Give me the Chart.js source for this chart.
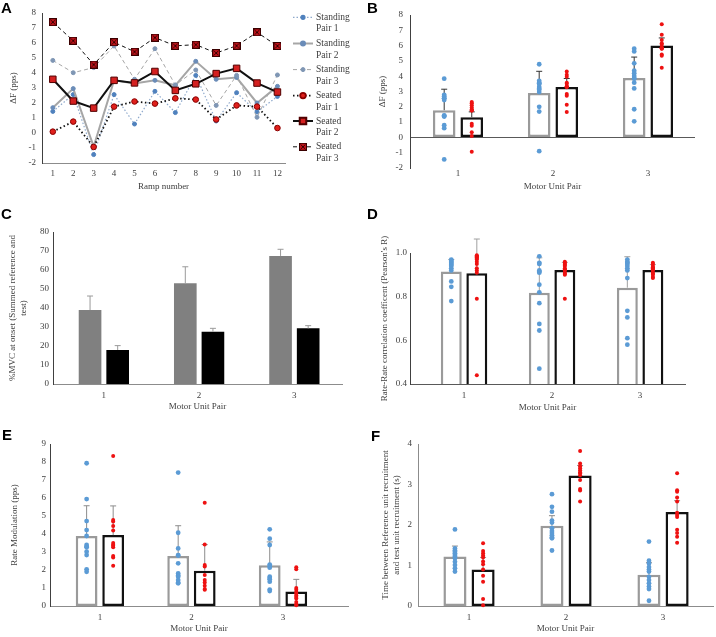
<!DOCTYPE html>
<html>
<head>
<meta charset="utf-8">
<script src="https://cdn.jsdelivr.net/npm/chart.js@4.4.1/dist/chart.umd.min.js"></script>
<style>
body{margin:0;background:#fff}
#fig{position:relative;width:716px;height:637px;overflow:hidden;background:#fff}
#fig canvas{position:absolute}
.letter{position:absolute;font:bold 15px 'Liberation Sans',Arial,sans-serif;line-height:15px;color:#000}
</style>
</head>
<body>
<div id="fig">
  <canvas id="chart-a" width="360" height="200" style="left:0;top:0"></canvas>
  <canvas id="chart-b" width="356" height="200" style="left:360px;top:0"></canvas>
  <canvas id="chart-c" width="360" height="210" style="left:0;top:210px"></canvas>
  <canvas id="chart-d" width="356" height="210" style="left:360px;top:210px"></canvas>
  <canvas id="chart-e" width="360" height="217" style="left:0;top:420px"></canvas>
  <canvas id="chart-f" width="356" height="217" style="left:360px;top:420px"></canvas>
  <div class="letter" style="left:1px;top:0">A</div>
  <div class="letter" style="left:367px;top:0">B</div>
  <div class="letter" style="left:1px;top:206px">C</div>
  <div class="letter" style="left:367px;top:206px">D</div>
  <div class="letter" style="left:2px;top:427px">E</div>
  <div class="letter" style="left:371px;top:428px">F</div>
</div>
<script>
// ---- data ----
const ramps = ['1','2','3','4','5','6','7','8','9','10','11','12']
const pairs = ['1','2','3']

// A: delta F per ramp (pps)
const standingPair1 = [1.44, 2.56, -1.44, 2.56, 0.6, 2.78, 1.36, 3.84, 0.8, 2.69, 1.4, 2.44]
const standingPair2 = [1.69, 2.96, -0.9, 3.51, 3.3, 3.51, 3.18, 4.78, 3.58, 3.7, 2.0, 3.11]
const standingPair3 = [4.84, 4.02, 4.36, 5.8, 3.58, 5.62, 3.2, 4.2, 1.84, 3.84, 1.05, 3.87]
const seatedPair1 = [0.09, 0.76, -0.93, 1.76, 2.1, 1.96, 2.31, 2.23, 0.9, 1.84, 1.76, 0.33]
const seatedPair2 = [3.58, 2.13, 1.66, 3.51, 3.34, 4.1, 2.84, 3.28, 3.96, 4.31, 3.33, 2.73]
const seatedPair3 = [7.39, 6.15, 4.56, 6.05, 5.42, 6.36, 5.81, 5.89, 5.33, 5.82, 6.71, 5.8]

// B: mean delta F and SD
const standingDeltaF = [1.78, 2.9, 3.88]
const standingDeltaFSd = [1.37, 1.42, 1.37]
const seatedDeltaF = [1.32, 3.3, 6.0]
const seatedDeltaFSd = [0.35, 0.55, 0.5]

// C: %MVC at onset
const standingOnset = [38.9, 53, 67.4]
const standingOnsetSd = [7.4, 8.7, 3.5]
const seatedOnset = [17.9, 27.5, 29.3]
const seatedOnsetSd = [2.3, 1.8, 1.4]

// D: rate-rate correlation
const standingCorr = [0.915, 0.818, 0.841]
const standingCorrSd = [0.055, 0.16, 0.142]
const seatedCorr = [0.907, 0.922, 0.922]
const seatedCorrSd = [0.157, 0.035, 0.025]
const standingCorrPoints = [
  [0.97, 0.965, 0.96, 0.955, 0.95, 0.945, 0.94, 0.93, 0.92, 0.87, 0.845, 0.78],
  [0.985, 0.955, 0.95, 0.92, 0.915, 0.91, 0.855, 0.82, 0.77, 0.675, 0.645, 0.47],
  [0.97, 0.96, 0.955, 0.95, 0.94, 0.93, 0.92, 0.885, 0.735, 0.705, 0.61, 0.58]
]
const seatedCorrPoints = [
  [0.99, 0.985, 0.98, 0.975, 0.97, 0.96, 0.95, 0.93, 0.92, 0.91, 0.79, 0.44],
  [0.96, 0.955, 0.95, 0.945, 0.94, 0.93, 0.925, 0.92, 0.91, 0.905, 0.9, 0.79],
  [0.955, 0.95, 0.94, 0.935, 0.93, 0.925, 0.92, 0.91, 0.905, 0.9, 0.89, 0.885]
]

// E: rate modulation (pps)
const standingRateMod = [3.89, 2.78, 2.26]
const standingRateModSd = [1.68, 1.68, 1.3]
const seatedRateMod = [3.94, 1.96, 0.81]
const seatedRateModSd = [1.62, 1.45, 0.67]
const standingRateModPoints = [
  [7.93, 5.94, 4.72, 4.22, 3.89, 3.39, 3.3, 3.26, 3.02, 2.83, 2.04, 1.9],
  [7.41, 4.07, 3.2, 2.83, 2.8, 2.37, 1.81, 1.7, 1.63, 1.44, 1.3, 1.26],
  [4.26, 3.74, 3.39, 2.3, 2.22, 2.13, 1.63, 1.55, 1.48, 1.35, 0.91, 0.83]
]
const seatedRateModPoints = [
  [8.33, 4.78, 4.7, 4.44, 4.19, 3.5, 3.4, 3.35, 3.26, 2.78, 2.7, 2.24],
  [5.74, 3.41, 2.28, 2.2, 1.72, 1.44, 1.3, 1.13, 0.95, 0.9],
  [2.15, 2.04, 1.0, 0.9, 0.78, 0.7, 0.59, 0.5, 0.41, 0.22, 0.1, 0.04]
]

// F: time between reference and test unit recruitment (s)
const standingDelay = [1.22, 1.98, 0.77]
const standingDelaySd = [0.26, 0.25, 0.3]
const seatedDelay = [0.9, 3.22, 2.32]
const seatedDelaySd = [0.3, 0.25, 0.28]
const standingDelayPoints = [
  [1.89, 1.42, 1.37, 1.34, 1.3, 1.26, 1.22, 1.18, 1.09, 1.01, 0.93, 0.85],
  [2.76, 2.45, 2.33, 2.11, 2.06, 1.92, 1.85, 1.8, 1.75, 1.7, 1.67, 1.37],
  [1.59, 1.12, 1.05, 0.96, 0.9, 0.85, 0.72, 0.64, 0.56, 0.48, 0.42, 0.13]
]
const seatedDelayPoints = [
  [1.55, 1.36, 1.3, 1.25, 1.2, 1.1, 1.03, 0.9, 0.75, 0.6, 0.17, 0.02],
  [3.83, 3.52, 3.45, 3.4, 3.35, 3.3, 3.28, 3.23, 3.11, 2.89, 2.85, 2.58],
  [3.28, 2.86, 2.82, 2.68, 2.58, 2.3, 2.25, 2.2, 1.88, 1.8, 1.71, 1.56]
]

// ---- common look ----
Chart.defaults.font.family = "'Liberation Serif', 'Times New Roman', serif"
Chart.defaults.font.size = 9
Chart.defaults.color = '#404040'
Chart.defaults.animation = false
Chart.defaults.plugins.legend.display = false
Chart.defaults.plugins.tooltip.enabled = false

const CAT_PCT = 0.58
const BAR_PCT = 0.82
const BLUE = '#5b9bd5'
const RED = '#ee1111'

const errorBars = {
  id: 'errorBars',
  afterDatasetDraw(chart, args) {
    const ds = chart.data.datasets[args.index]
    if(!ds.errors) return
    const ctx = chart.ctx
    const y = chart.scales.y
    ctx.save()
    ctx.strokeStyle = ds.errorColor
    ctx.lineWidth = 1
    args.meta.data.forEach((bar, i) => {
      const top = y.getPixelForValue(ds.data[i].y + ds.errors[i])
      ctx.beginPath()
      ctx.moveTo(bar.x, bar.y)
      ctx.lineTo(bar.x, top)
      ctx.moveTo(bar.x - 3, top)
      ctx.lineTo(bar.x + 3, top)
      ctx.stroke()
    })
    ctx.restore()
  }
}

function barsFrom(values) {
  return values.map((v, i) => ({x: i + 1, y: v}))
}

function pointsFrom(groups, shift) {
  const out = []
  groups.forEach((vals, i) => vals.forEach(v => out.push({x: i + 1 + shift, y: v})))
  return out
}

function xAxis(cfg) {
  return {
    type: 'linear', min: cfg.min, max: cfg.max, offset: false,
    afterBuildTicks: s => { s.ticks = cfg.labels.map((l, i) => ({value: i + 1})) },
    ticks: {padding: cfg.tickPad, autoSkip: false, maxRotation: 0, callback: v => cfg.labels[Math.round(v) - 1]},
    grid: {display: false, drawTicks: false, offset: false},
    border: {display: cfg.line !== false, color: cfg.lineColor || '#8c8c8c', width: 1},
    title: {display: true, text: cfg.title, padding: {top: 0, bottom: cfg.titlePad}},
    afterFit: s => { s.height = cfg.height }
  }
}

function yAxis(cfg) {
  return {
    type: 'linear', min: cfg.min, max: cfg.max,
    ticks: {stepSize: cfg.step, padding: cfg.tickPad, callback: cfg.format || (v => v)},
    grid: {
      display: !!cfg.zeroLine, drawTicks: false,
      color: c => (c.tick && Math.abs(c.tick.value) < 1e-9) ? '#595959' : 'rgba(0,0,0,0)'
    },
    border: {display: true, color: cfg.lineColor || '#595959', width: 1},
    title: {display: true, text: cfg.title, padding: {top: cfg.titlePad, bottom: 0}},
    afterFit: s => { s.width = cfg.width }
  }
}

function groupedChart(id, cfg) {
  const datasets = [
    {type: 'bar', data: barsFrom(cfg.standing), errors: cfg.standingSd, errorColor: cfg.errorColor,
     backgroundColor: cfg.filled ? '#808080' : '#ffffff', borderColor: cfg.filled ? '#808080' : '#9a9a9a',
     borderWidth: cfg.filled ? 0 : 2.5, borderSkipped: false, order: 2},
    {type: 'bar', data: barsFrom(cfg.seated), errors: cfg.seatedSd, errorColor: cfg.errorColor,
     backgroundColor: cfg.filled ? '#000000' : '#ffffff', borderColor: '#111111',
     borderWidth: cfg.filled ? 0 : 2.5, borderSkipped: false, order: 2}
  ]
  if(cfg.standingPoints) {
    datasets.push({type: 'scatter', data: pointsFrom(cfg.standingPoints, -CAT_PCT / 4),
      pointRadius: 2.4, pointBackgroundColor: BLUE, pointBorderWidth: 0, clip: false, order: 1})
    datasets.push({type: 'scatter', data: pointsFrom(cfg.seatedPoints, CAT_PCT / 4),
      pointRadius: 2, pointBackgroundColor: RED, pointBorderWidth: 0, clip: false, order: 1})
  }
  return new Chart(document.getElementById(id), {
    type: 'bar',
    data: {datasets: datasets},
    options: {
      responsive: false,
      categoryPercentage: CAT_PCT,
      barPercentage: BAR_PCT,
      layout: {autoPadding: false, padding: {top: cfg.padTop, right: cfg.padRight, left: 0, bottom: 0}},
      scales: {x: xAxis(cfg.x), y: yAxis(cfg.y)}
    },
    plugins: [errorBars]
  })
}

// ---- A: line chart with custom legend ----
function crossSquare() {
  const c = document.createElement('canvas')
  c.width = 8
  c.height = 8
  const g = c.getContext('2d')
  g.fillStyle = '#c0141c'
  g.fillRect(0, 0, 8, 8)
  g.strokeStyle = '#3a0000'
  g.lineWidth = 1
  g.strokeRect(0.5, 0.5, 7, 7)
  g.beginPath()
  g.moveTo(1.5, 1.5); g.lineTo(6.5, 6.5)
  g.moveTo(6.5, 1.5); g.lineTo(1.5, 6.5)
  g.stroke()
  return c
}

const seriesA = [
  {name: ['Standing', 'Pair 1'], values: standingPair1, color: '#8ea9cc', width: 1.2, dash: [1.5, 2],
   style: 'circle', radius: 2, fill: '#4f81bd', edge: '#4f81bd'},
  {name: ['Standing', 'Pair 2'], values: standingPair2, color: '#a6a6a6', width: 2, dash: [],
   style: 'circle', radius: 2, fill: '#6a8cb8', edge: '#6a8cb8'},
  {name: ['Standing', 'Pair 3'], values: standingPair3, color: '#a6a6a6', width: 1, dash: [4, 3],
   style: 'circle', radius: 2, fill: '#7f96b4', edge: '#7f96b4'},
  {name: ['Seated', 'Pair 1'], values: seatedPair1, color: '#111111', width: 1.8, dash: [1.5, 2.5],
   style: 'circle', radius: 2.8, fill: '#e0201c', edge: '#8a0000'},
  {name: ['Seated', 'Pair 2'], values: seatedPair2, color: '#111111', width: 2, dash: [],
   style: 'rect', radius: 4.6, fill: '#d42020', edge: '#500000'},
  {name: ['Seated', 'Pair 3'], values: seatedPair3, color: '#111111', width: 1, dash: [4, 3],
   style: crossSquare(), radius: 4, fill: '#c0141c', edge: '#3a0000'}
]

const legendA = {
  id: 'legendA',
  afterDraw(chart) {
    const ctx = chart.ctx
    const rows = [17.3, 43.5, 69.6, 95.6, 121, 146.8]
    chart.data.datasets.forEach((ds, i) => {
      const y = rows[i]
      ctx.save()
      ctx.strokeStyle = ds.borderColor
      ctx.lineWidth = ds.borderWidth
      ctx.setLineDash(ds.borderDash)
      ctx.beginPath()
      ctx.moveTo(293, y)
      ctx.lineTo(313, y)
      ctx.stroke()
      ctx.setLineDash([])
      ctx.fillStyle = ds.pointBackgroundColor
      ctx.strokeStyle = ds.pointBorderColor
      Chart.helpers.drawPoint(ctx, {pointStyle: ds.pointStyle, radius: ds.pointRadius, borderWidth: 1, rotation: 0}, 303, y)
      ctx.fillStyle = '#404040'
      ctx.font = "9.5px 'Liberation Serif', 'Times New Roman', serif"
      ctx.textBaseline = 'middle'
      ctx.textAlign = 'left'
      ctx.fillText(ds.label[0], 316, y)
      ctx.fillText(ds.label[1], 316, y + 11.5)
      ctx.restore()
    })
  }
}

new Chart(document.getElementById('chart-a'), {
  type: 'line',
  data: {
    datasets: seriesA.map((s, i) => ({
      label: s.name,
      data: s.values.map((v, j) => ({x: j + 1, y: v})),
      borderColor: s.color, borderWidth: s.width, borderDash: s.dash,
      pointStyle: s.style, pointRadius: s.radius,
      pointBackgroundColor: s.fill, pointBorderColor: s.edge, pointBorderWidth: 1,
      tension: 0, fill: false, clip: false, order: 6 - i
    }))
  },
  options: {
    responsive: false,
    layout: {autoPadding: false, padding: {top: 13, right: 75, left: 0, bottom: 0}},
    scales: {
      x: xAxis({min: 0.47, max: 12.37, labels: ramps, tickPad: 5, title: 'Ramp number', titlePad: 7.6, height: 37, lineColor: '#8c8c8c'}),
      y: yAxis({min: -2, max: 8, step: 1, tickPad: 6, title: 'ΔF (pps)', titlePad: 8.6, width: 42, lineColor: '#404040'})
    }
  },
  plugins: [legendA]
})

// ---- B ----
groupedChart('chart-b', {
  standing: standingDeltaF, standingSd: standingDeltaFSd,
  seated: seatedDeltaF, seatedSd: seatedDeltaFSd,
  standingPoints: [standingPair1, standingPair2, standingPair3],
  seatedPoints: [seatedPair1, seatedPair2, seatedPair3],
  errorColor: '#333333', padTop: 15, padRight: 21,
  x: {min: 0.495, max: 3.495, labels: pairs, tickPad: 0, title: 'Motor Unit Pair', titlePad: 7.6, height: 32, line: false},
  y: {min: -2, max: 8, step: 1, tickPad: 7, title: 'ΔF (pps)', titlePad: 17.6, width: 50, zeroLine: true, lineColor: '#404040'}
})

// ---- C ----
groupedChart('chart-c', {
  standing: standingOnset, standingSd: standingOnsetSd,
  seated: seatedOnset, seatedSd: seatedOnsetSd,
  filled: true, errorColor: '#9a9a9a', padTop: 22, padRight: 18,
  x: {min: 0.466, max: 3.5, labels: pairs, tickPad: 6, title: 'Motor Unit Pair', titlePad: 7.6, height: 36, lineColor: '#8c8c8c'},
  y: {min: 0, max: 80, step: 10, tickPad: 4, title: ['%MVC at onset (Summed reference and', 'test)'], titlePad: 7.6, width: 53, lineColor: '#404040'}
})

// ---- D ----
groupedChart('chart-d', {
  standing: standingCorr, standingSd: standingCorrSd,
  seated: seatedCorr, seatedSd: seatedCorrSd,
  standingPoints: standingCorrPoints, seatedPoints: seatedCorrPoints,
  errorColor: '#a0a0a0', padTop: 43, padRight: 31,
  x: {min: 0.386, max: 3.51, labels: pairs, tickPad: 6, title: 'Motor Unit Pair', titlePad: 6.6, height: 36, lineColor: '#595959'},
  y: {min: 0.4, max: 1.0, step: 0.2, tickPad: 3, format: v => v.toFixed(1), title: "Rate-Rate correlation coefficent (Pearson's R)", titlePad: 19.6, width: 50, lineColor: '#404040'}
})

// ---- E ----
groupedChart('chart-e', {
  standing: standingRateMod, standingSd: standingRateModSd,
  seated: seatedRateMod, seatedSd: seatedRateModSd,
  standingPoints: standingRateModPoints, seatedPoints: seatedRateModPoints,
  errorColor: '#8c8c8c', padTop: 24, padRight: 12,
  x: {min: 0.455, max: 3.71, labels: pairs, tickPad: 6, title: 'Motor Unit Pair', titlePad: 2.6, height: 31, lineColor: '#8c8c8c'},
  y: {min: 0, max: 9, step: 1, tickPad: 4, title: 'Rate Modulation (pps)', titlePad: 9.6, width: 50, lineColor: '#404040'}
})

// ---- F ----
groupedChart('chart-f', {
  standing: standingDelay, standingSd: standingDelaySd,
  seated: seatedDelay, seatedSd: seatedDelaySd,
  standingPoints: standingDelayPoints, seatedPoints: seatedDelayPoints,
  errorColor: '#8c8c8c', padTop: 24, padRight: 3,
  x: {min: 0.474, max: 3.515, labels: pairs, tickPad: 6, title: 'Motor Unit Pair', titlePad: 2.6, height: 31, lineColor: '#8c8c8c'},
  y: {min: 0, max: 4, step: 1, tickPad: 6, title: ['Time between Reference unit recruitment', 'and test unit recruitment (s)'], titlePad: 20, width: 58, lineColor: '#8c8c8c'}
})
</script>
</body>
</html>
